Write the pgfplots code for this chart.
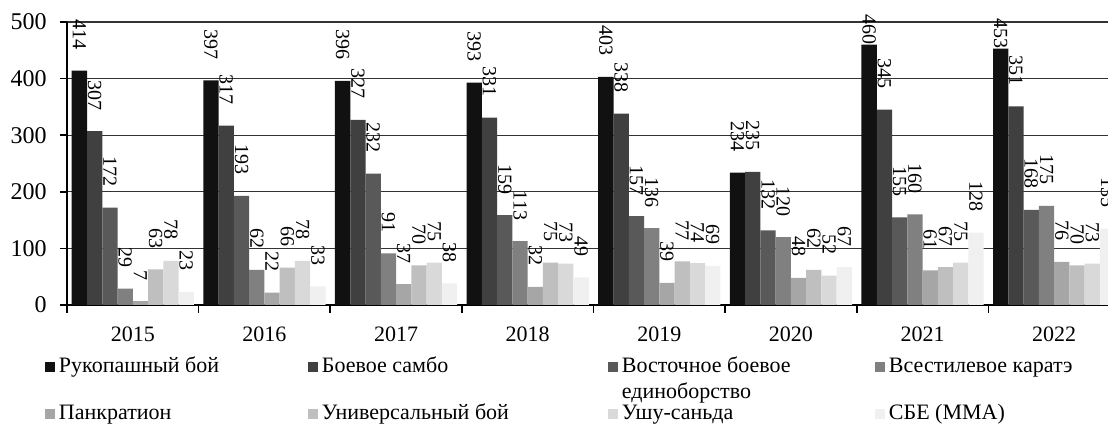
\documentclass[border=0pt]{standalone}
\usepackage{pgfplots}
\usepackage{pgfplotstable}
\pgfplotsset{compat=1.18}
\usepackage{fontspec}
\setmainfont{Liberation Serif}

\definecolor{c1}{HTML}{111111}
\definecolor{c2}{HTML}{404040}
\definecolor{c3}{HTML}{595959}
\definecolor{c4}{HTML}{808080}
\definecolor{c5}{HTML}{A6A6A6}
\definecolor{c6}{HTML}{BFBFBF}
\definecolor{c7}{HTML}{D9D9D9}
\definecolor{c8}{HTML}{F0F0F0}

\pgfplotstableread{
x s1 g1 s2 s3 s4 s5 s6 s7 s8
0 414 10.5 307 172 29 7 63 78 23
1 397 10.5 317 193 62 22 66 78 33
2 396 10.5 327 232 91 37 70 75 38
3 393 10.5 331 159 113 32 75 73 49
4 403 10.5 338 157 136 39 77 74 69
5 234 10.5 235 132 120 48 62 52 67
6 460 0 345 155 160 61 67 75 128
7 453 0 351 168 175 76 70 73 135
}\data

\begin{document}
\begin{tikzpicture}
\begin{axis}[
  at={(33.5pt,60.5pt)}, anchor=south west,
  scale only axis, width=526.5pt, height=141.5pt,
  xmin=-0.5, xmax=7.5, ymin=0, ymax=500,
  ybar=0pt, bar width=0.116,
  axis x line*=bottom, axis y line*=left,
  axis line style={black, line width=0.8pt},
  ytick={0,100,200,300,400,500},
  ymajorgrids, major grid style={draw=black!80, line width=0.6pt},
  xtick={0,...,7}, xticklabels={2015,2016,2017,2018,2019,2020,2021,2022},
  minor xtick={-0.5,0.5,...,6.5},
  major x tick style={draw=none},
  minor x tick style={black, line width=0.8pt},
  ytick style={black, line width=0.8pt},
  tick align=outside,
  major tick length=3.5pt, minor tick length=4pt,
  /pgf/number format/assume math mode=true,
  yticklabel style={font=\fontsize{12}{14}\selectfont, inner sep=0pt, xshift=-6.5pt},
  xticklabel style={font=\fontsize{11}{13}\selectfont, anchor=base, inner sep=0pt, yshift=-15pt},
  nodes near coords,
  nodes near coords align={anchor=east},
  every node near coord/.append style={rotate=-90, font=\fontsize{10}{12}\selectfont, inner sep=0pt, outer sep=0pt, outer xsep=10.5pt, text=black},
  legend style={draw=none, fill=none, inner sep=0pt, outer sep=0pt,
    at={(rel axis cs:-0.0209,-0.1837)}, anchor=north west,
    font=\fontsize{11}{13}\selectfont,
    /tikz/column sep=2pt, /tikz/row sep=13pt,
    nodes={inner sep=0pt, outer sep=0pt, text height=8pt, text depth=2.5pt},
    cells={anchor=base west}},
  legend columns=4,
  legend image code/.code={\fill[#1] (0pt,0.5pt) rectangle (5pt,5.5pt);},
]
\addplot[fill=c1, draw=none, visualization depends on={\thisrow{g1} \as \gap}, every node near coord/.append style={outer xsep=\gap pt}] table[x=x, y=s1] {\data};
\addlegendentry{\makebox[122.5pt][l]{Рукопашный бой}}
\addplot[fill=c2, draw=none] table[x=x, y=s2] {\data};
\addlegendentry{\makebox[141pt][l]{Боевое самбо}}
\addplot[fill=c3, draw=none] table[x=x, y=s3] {\data};
\addlegendentry{\makebox[124.5pt][l]{\begin{tabular}[t]{@{}l@{}}Восточное боевое\\единоборство\end{tabular}}}
\addplot[fill=c4, draw=none] table[x=x, y=s4] {\data};
\addlegendentry{Всестилевое каратэ}
\addplot[fill=c5, draw=none] table[x=x, y=s5] {\data};
\addlegendentry{Панкратион}
\addplot[fill=c6, draw=none] table[x=x, y=s6] {\data};
\addlegendentry{Универсальный бой}
\addplot[fill=c7, draw=none] table[x=x, y=s7] {\data};
\addlegendentry{Ушу-саньда}
\addplot[fill=c8, draw=none] table[x=x, y=s8] {\data};
\addlegendentry{СБЕ (ММА)}
\end{axis}
\pgfresetboundingbox
\useasboundingbox (0,0) rectangle (554pt,213pt);
\end{tikzpicture}
\end{document}
